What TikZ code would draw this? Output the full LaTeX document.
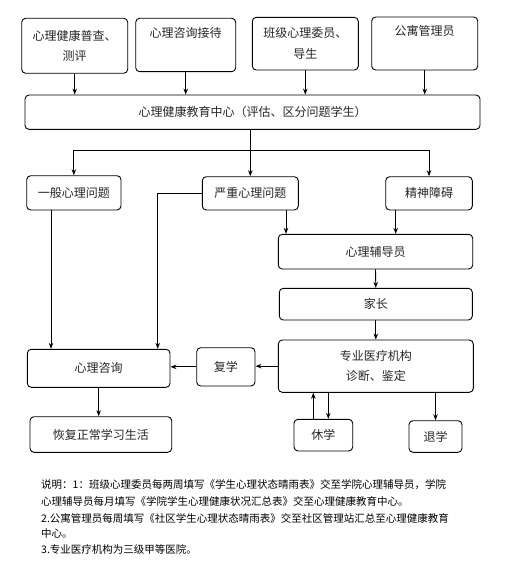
\documentclass[tikz,border=0pt]{standalone}
\usepackage{fontspec}
\setmainfont{Noto Sans CJK SC}
\usetikzlibrary{arrows.meta}
\begin{document}
\begin{tikzpicture}[x=1pt,y=-1pt,
 box/.style={draw, rounded corners=4pt, line width=0.9pt, inner sep=0pt, align=center, font=\fontsize{12}{20}\selectfont, text=black!85},
 arr/.style={-{Stealth[length=6pt,width=4.5pt]}, line width=0.9pt},
 ln/.style={line width=0.9pt},
 note/.style={anchor=west, inner sep=0pt, font=\fontsize{10.5}{16}\selectfont}]
\useasboundingbox (0,0) rectangle (506,564);
\fill[white] (0,0) rectangle (506,564);
% top row
\node[box, minimum width=106pt, minimum height=55pt] (b1) at (74.7,45.8) {心理健康普查、\\测评};
\node[box, minimum width=100pt, minimum height=53.4pt] (b2) at (185.7,45) {心理咨询接待\\\strut};
\node[box, minimum width=106pt, minimum height=52.7pt, font=\fontsize{12}{21}\selectfont] (b3) at (305.3,43.7) {班级心理委员、\\导生};
\node[box, minimum width=106pt, minimum height=53pt] (b4) at (424.7,43.5) {公寓管理员\\\strut};
\node[box, minimum width=455pt, minimum height=34.3pt] (c) at (252.5,112.2) {心理健康教育中心（评估、区分问题学生）};
% second row
\node[box, minimum width=94.3pt, minimum height=34.3pt] (g1) at (73.85,192.85) {一般心理问题};
\node[box, minimum width=96pt, minimum height=33.3pt] (g2) at (250.3,193.35) {严重心理问题};
\node[box, minimum width=86.6pt, minimum height=33.3pt] (g3) at (429,193.35) {精神障碍};
% right column
\node[box, minimum width=194.4pt, minimum height=34.7pt] (h) at (375.5,251.65) {心理辅导员};
\node[box, minimum width=193pt, minimum height=31.7pt] (i) at (375.8,304.15) {家长};
\node[box, minimum width=195pt, minimum height=52.3pt] (j) at (375.8,366.15) {专业医疗机构\\诊断、鉴定};
\node[box, minimum width=58.3pt, minimum height=38.3pt] (k) at (225.85,366.85) {复学};
\node[box, minimum width=142.7pt, minimum height=38pt] (l) at (98.65,368.3) {心理咨询};
\node[box, minimum width=141.7pt, minimum height=35.6pt] (m) at (100.85,434.5) {恢复正常学习生活};
\node[box, minimum width=58.7pt, minimum height=31.7pt] (n) at (323.35,435.15) {休学};
\node[box, minimum width=53pt, minimum height=31.6pt] (o) at (435.5,436.5) {退学};
% helper coordinates
\coordinate (hy) at (0,150);
\coordinate (x1) at (51,0);
\coordinate (x2) at (157.7,0);
\coordinate (x3) at (286,0);
\coordinate (x4) at (395.7,0);
\coordinate (x5) at (313.3,0);
\coordinate (x6) at (328.3,0);
% connectors
\draw[arr] (b1.south) -- (b1.south |- c.north);
\draw[arr] (b2.south) -- (b2.south |- c.north);
\draw[arr] (b3.south) -- (b3.south |- c.north);
\draw[arr] (b4.south) -- (b4.south |- c.north);
\draw[arr] (c.south -| g2.north) -- (g2.north);
\draw[ln] (g1.north |- hy) -- (g3.north |- hy);
\draw[arr] (g1.north |- hy) -- (g1.north);
\draw[arr] (g3.north |- hy) -- (g3.north);
\draw[arr] (g1.south -| x1) -- (l.north -| x1);
\draw[arr] (g2.west) -| (l.north -| x2);
\draw[arr] (g2.south -| x3) -- (h.north -| x3);
\draw[arr] (g3.south -| x4) -- (h.north -| x4);
\draw[arr] (h.south) -- (i.north);
\draw[arr] (i.south) -- (j.north);
\draw[arr] (j.west) -- (j.west -| k.east);
\draw[arr] (k.west) -- (k.west -| l.east);
\draw[arr] (l.south) -- (l.south |- m.north);
\draw[arr] (n.north -| x5) -- (j.south -| x5);
\draw[arr] (j.south -| x6) -- (n.north -| x6);
\draw[arr] (j.south -| o.north) -- (o.north);
% notes
\node[note] (t1) at (41,485) {说明：1：班级心理委员每两周填写《学生心理状态晴雨表》交至学院心理辅导员，学院};
\node[note] (t2) at (41,501.7) {心理辅导员每月填写《学院学生心理健康状况汇总表》交至心理健康教育中心。};
\node[note] (t3) at (41,518) {2.公寓管理员每周填写《社区学生心理状态晴雨表》交至社区管理站汇总至心理健康教育};
\node[note] (t4) at (41,533.5) {中心。};
\node[note] (t5) at (41,549) {3.专业医疗机构为三级甲等医院。};
\end{tikzpicture}
\end{document}
